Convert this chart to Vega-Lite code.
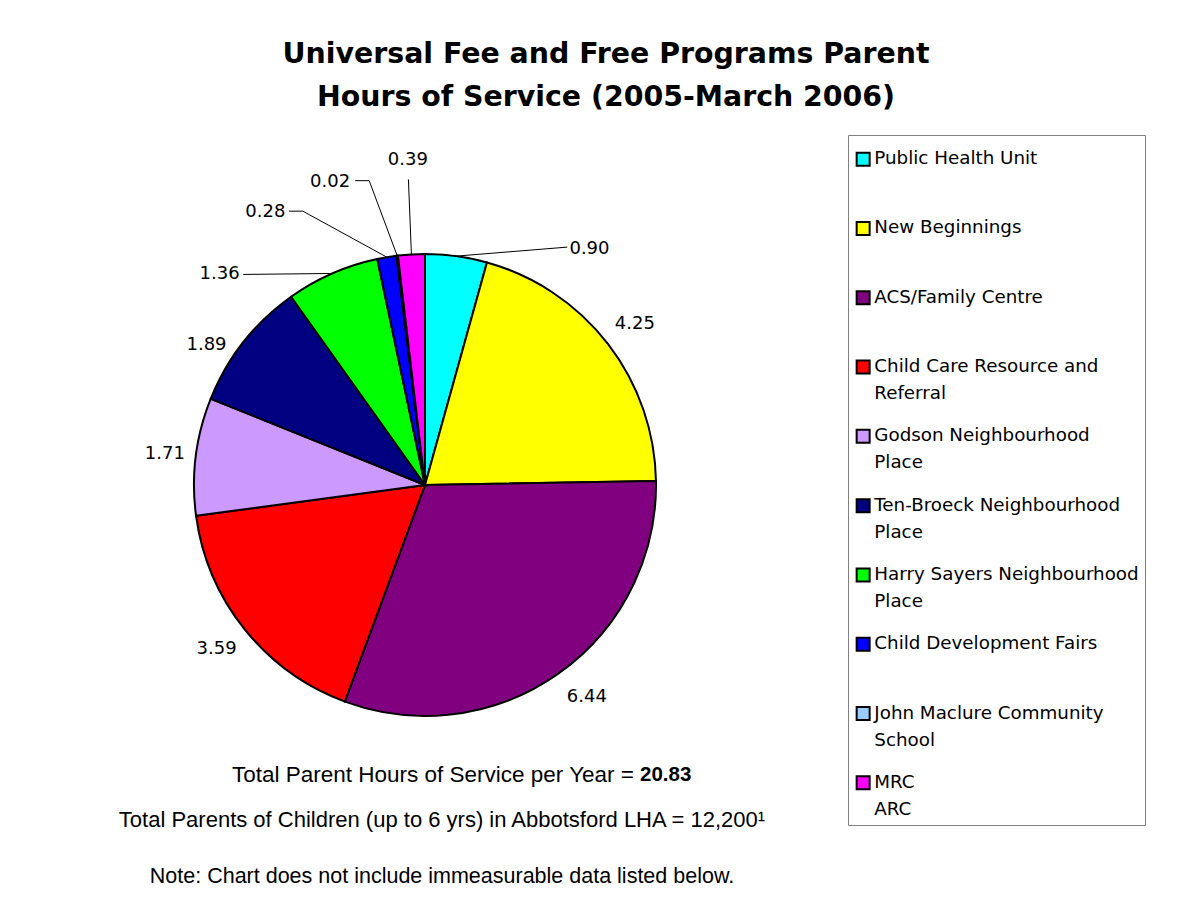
{
  "$schema": "https://vega.github.io/schema/vega-lite/v6.json",
  "background": "white",
  "padding": {"left": 114, "top": 40, "right": 0, "bottom": 0},
  "datasets": {
    "programs": [
      {"program": "Public Health Unit", "hours": 0.90},
      {"program": "New Beginnings", "hours": 4.25},
      {"program": "ACS/Family Centre", "hours": 6.44},
      {"program": "Child Care Resource and Referral", "hours": 3.59},
      {"program": "Godson Neighbourhood Place", "hours": 1.71},
      {"program": "Ten-Broeck Neighbourhood Place", "hours": 1.89},
      {"program": "Harry Sayers Neighbourhood Place", "hours": 1.36},
      {"program": "Child Development Fairs", "hours": 0.28},
      {"program": "John Maclure Community School", "hours": 0.02},
      {"program": "MRC ARC", "hours": 0.39}
    ]
  },
  "title": {
    "text": ["Universal Fee and Free Programs Parent", "Hours of Service (2005-March 2006)"],
    "font": "DejaVu Sans",
    "fontSize": 28.4,
    "fontWeight": "bold",
    "lineHeight": 43,
    "color": "black",
    "anchor": "middle",
    "dx": -24,
    "offset": 22
  },
  "spacing": 0,
  "vconcat": [
    {
      "width": 560,
      "height": 540,
      "data": {"name": "programs"},
      "transform": [
        {"window": [{"op": "row_number", "as": "order"}]},
        {"stack": "hours", "groupby": [], "sort": [{"field": "order", "order": "ascending"}], "as": ["start", "end"]},
        {"calculate": "(datum.start + datum.end) / 2", "as": "mid"},
        {"joinaggregate": [{"op": "sum", "field": "hours", "as": "total"}]},
        {"calculate": "2 * PI * datum.mid / datum.total", "as": "angle"},
        {"calculate": "231 * sin(datum.angle)", "as": "edge_x"},
        {"calculate": "231 * cos(datum.angle)", "as": "edge_y"}
      ],
      "encoding": {
        "x": {"field": "edge_x", "type": "quantitative", "axis": null, "scale": {"domain": [-280, 280], "nice": false, "zero": false}},
        "y": {"field": "edge_y", "type": "quantitative", "axis": null, "scale": {"domain": [-270, 270], "nice": false, "zero": false}},
        "x2": {"field": "edge_x"},
        "y2": {"field": "edge_y"}
      },
      "layer": [
        {
          "mark": {"type": "arc", "outerRadius": 231, "stroke": "black", "strokeWidth": 2},
          "encoding": {
            "x": null, "y": null, "x2": null, "y2": null,
            "theta": {"field": "end", "type": "quantitative", "scale": {"zero": true}},
            "theta2": {"field": "start"},
            "color": {
              "field": "program",
              "type": "nominal",
              "scale": {
                "domain": ["Public Health Unit", "New Beginnings", "ACS/Family Centre", "Child Care Resource and Referral", "Godson Neighbourhood Place", "Ten-Broeck Neighbourhood Place", "Harry Sayers Neighbourhood Place", "Child Development Fairs", "John Maclure Community School", "MRC ARC"],
                "range": ["#00FFFF", "#FFFF00", "#800080", "#FF0000", "#CC99FF", "#000080", "#00FF00", "#0000FF", "#99CCFF", "#FF00FF"]
              },
              "legend": {
                "orient": "none",
                "legendX": 703,
                "legendY": -80,
                "title": " ",
                "titleFontSize": 8,
                "titlePadding": 1,
                "direction": "vertical",
                "symbolType": "square",
                "symbolSize": 169,
                "symbolStrokeColor": "black",
                "symbolStrokeWidth": 2,
                "labelFont": "DejaVu Sans",
                "labelFontSize": 18.3,
                "labelColor": "black",
                "labelLimit": 500,
                "labelOffset": 2,
                "labelExpr": "(length(datum.label) > 24 || datum.label == 'MRC ARC') ? [slice(datum.label, 0, lastindexof(datum.label, ' ')), slice(datum.label, lastindexof(datum.label, ' ') + 1)] : [datum.label, '']",
                "rowPadding": 22.3,
                "padding": 6,
                "strokeColor": "#808080",
                "fillColor": "white"
              }
            }
          }
        },
        {
          "transform": [{"filter": "datum.program == 'Public Health Unit'"}],
          "layer": [
            {"mark": {"type": "rule", "color": "black", "strokeWidth": 1, "x2Offset": 111, "y2Offset": -9}},
            {"mark": {"type": "text", "radius": 240, "dx": 132, "dy": 2},
             "encoding": {"x": null, "y": null, "x2": null, "y2": null, "theta": {"field": "mid", "type": "quantitative"}, "text": {"field": "hours", "format": ".2f"}}}
          ]
        },
        {
          "transform": [{"filter": "datum.program == 'New Beginnings'"}],
          "mark": {"type": "text", "radius": 240, "dx": 20, "dy": -14},
          "encoding": {"x": null, "y": null, "x2": null, "y2": null, "theta": {"field": "mid", "type": "quantitative"}, "text": {"field": "hours", "format": ".2f"}}
        },
        {
          "transform": [{"filter": "datum.program == 'ACS/Family Centre'"}],
          "mark": {"type": "text", "radius": 240, "dx": 23, "dy": 16},
          "encoding": {"x": null, "y": null, "x2": null, "y2": null, "theta": {"field": "mid", "type": "quantitative"}, "text": {"field": "hours", "format": ".2f"}}
        },
        {
          "transform": [{"filter": "datum.program == 'Child Care Resource and Referral'"}],
          "mark": {"type": "text", "radius": 240, "dx": -21, "dy": 14},
          "encoding": {"x": null, "y": null, "x2": null, "y2": null, "theta": {"field": "mid", "type": "quantitative"}, "text": {"field": "hours", "format": ".2f"}}
        },
        {
          "transform": [{"filter": "datum.program == 'Godson Neighbourhood Place'"}],
          "mark": {"type": "text", "radius": 240, "dx": -22, "dy": -1},
          "encoding": {"x": null, "y": null, "x2": null, "y2": null, "theta": {"field": "mid", "type": "quantitative"}, "text": {"field": "hours", "format": ".2f"}}
        },
        {
          "transform": [{"filter": "datum.program == 'Ten-Broeck Neighbourhood Place'"}],
          "mark": {"type": "text", "radius": 240, "dx": -30, "dy": 9},
          "encoding": {"x": null, "y": null, "x2": null, "y2": null, "theta": {"field": "mid", "type": "quantitative"}, "text": {"field": "hours", "format": ".2f"}}
        },
        {
          "transform": [{"filter": "datum.program == 'Harry Sayers Neighbourhood Place'"}],
          "layer": [
            {"mark": {"type": "rule", "color": "black", "strokeWidth": 1, "x2Offset": -89, "y2Offset": 1}},
            {"mark": {"type": "text", "radius": 240, "dx": -109, "dy": 9},
             "encoding": {"x": null, "y": null, "x2": null, "y2": null, "theta": {"field": "mid", "type": "quantitative"}, "text": {"field": "hours", "format": ".2f"}}}
          ]
        },
        {
          "transform": [{"filter": "datum.program == 'Child Development Fairs'"}],
          "layer": [
            {"mark": {"type": "rule", "color": "black", "strokeWidth": 1, "x2Offset": -84, "y2Offset": -46}},
            {"mark": {"type": "rule", "color": "black", "strokeWidth": 1, "xOffset": -84, "yOffset": -46, "x2Offset": -98, "y2Offset": -46}},
            {"mark": {"type": "text", "radius": 240, "dx": -120, "dy": -36},
             "encoding": {"x": null, "y": null, "x2": null, "y2": null, "theta": {"field": "mid", "type": "quantitative"}, "text": {"field": "hours", "format": ".2f"}}}
          ]
        },
        {
          "transform": [{"filter": "datum.program == 'John Maclure Community School'"}],
          "layer": [
            {"mark": {"type": "rule", "color": "black", "strokeWidth": 1, "x2Offset": -28, "y2Offset": -75}},
            {"mark": {"type": "rule", "color": "black", "strokeWidth": 1, "xOffset": -28, "yOffset": -75, "x2Offset": -42, "y2Offset": -75}},
            {"mark": {"type": "text", "radius": 240, "dx": -66, "dy": -65},
             "encoding": {"x": null, "y": null, "x2": null, "y2": null, "theta": {"field": "mid", "type": "quantitative"}, "text": {"field": "hours", "format": ".2f"}}}
          ]
        },
        {
          "transform": [{"filter": "datum.program == 'MRC ARC'"}],
          "layer": [
            {"mark": {"type": "rule", "color": "black", "strokeWidth": 1, "x2Offset": -3, "y2Offset": -75}},
            {"mark": {"type": "text", "radius": 240, "dx": -3, "dy": -85},
             "encoding": {"x": null, "y": null, "x2": null, "y2": null, "theta": {"field": "mid", "type": "quantitative"}, "text": {"field": "hours", "format": ".2f"}}}
          ]
        }
      ]
    },
    {
      "width": 594,
      "height": 40,
      "layer": [
        {
          "data": {"values": [{"note": "Total Parent Hours of Service per Year ="}]},
          "mark": {"type": "text", "align": "right", "dx": 192, "font": "Liberation Sans", "fontSize": 22.5},
          "encoding": {"text": {"field": "note"}}
        },
        {
          "data": {"name": "programs"},
          "transform": [{"aggregate": [{"op": "sum", "field": "hours", "as": "total"}]}],
          "mark": {"type": "text", "align": "left", "dx": 198, "font": "Liberation Sans", "fontSize": 20.5, "fontWeight": "bold"},
          "encoding": {"text": {"field": "total", "format": ".2f"}}
        }
      ]
    },
    {
      "width": 594,
      "height": 50,
      "data": {"values": [{"note": "Total Parents of Children (up to 6 yrs) in Abbotsford LHA  = 12,200¹"}]},
      "mark": {"type": "text", "font": "Liberation Sans", "fontSize": 22},
      "encoding": {"text": {"field": "note"}}
    },
    {
      "width": 594,
      "height": 64,
      "data": {"values": [{"note": "Note: Chart does not include immeasurable data listed below."}]},
      "mark": {"type": "text", "font": "Liberation Sans", "fontSize": 21.5},
      "encoding": {"text": {"field": "note"}}
    }
  ],
  "config": {
    "view": {"stroke": null},
    "text": {"font": "DejaVu Sans", "fontSize": 18, "color": "black"},
    "style": {"guide-label": {"lineHeight": 27}}
  }
}
